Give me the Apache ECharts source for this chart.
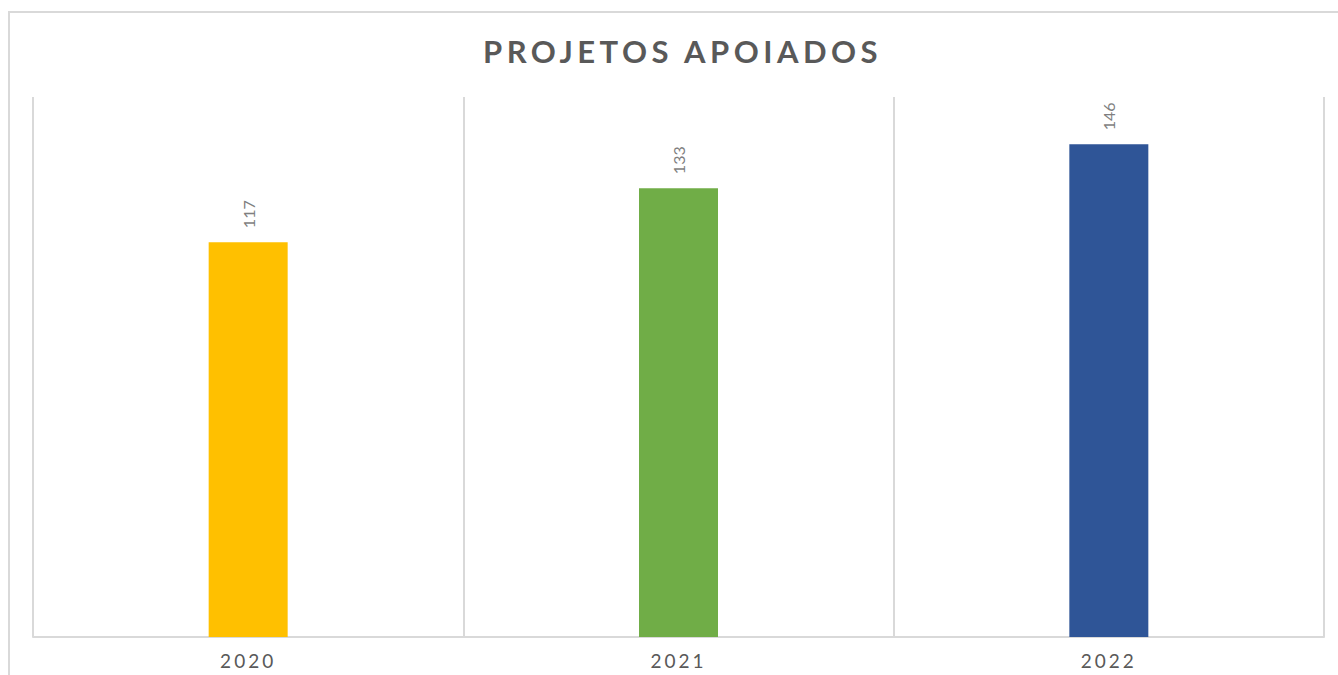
<!DOCTYPE html>
<html>
<head>
<meta charset="utf-8">
<script src="https://cdn.jsdelivr.net/npm/echarts@6/dist/echarts.min.js"></script>
<style>
  html, body { margin: 0; padding: 0; background: #fff; }
  #chart { width: 1338px; height: 675px; }
  /* letter spacing like the original (title and year labels) */
  #chart text[style*="31px"] { letter-spacing: 4.5px; }
  #chart text[style*="19px"] { letter-spacing: 3px; }
</style>
</head>
<body>
<div id="chart"></div>
<script>
const years = ['2020', '2021', '2022']
const projects = [117, 133, 146]
const barColors = ['#FFC000', '#70AD47', '#2F5597']

const chart = echarts.init(document.getElementById('chart'), null, { renderer: 'svg' })

chart.setOption({
  animation: false,
  title: {
    text: 'PROJETOS APOIADOS',
    left: 483,
    top: 30,
    padding: [5, 0, 5, 0],
    textStyle: { fontFamily: 'Lato', fontWeight: 'bold', fontSize: 31, color: '#595959' },
  },
  graphic: [
    {
      type: 'rect',
      shape: { x: 9, y: 12, width: 1400, height: 700 },
      style: { fill: 'none', stroke: '#d9d9d9', lineWidth: 2 },
      silent: true,
    },
  ],
  grid: { left: 33, right: 14, top: 97, bottom: 38 },
  xAxis: {
    type: 'category',
    data: years,
    axisTick: { show: false },
    axisLine: { lineStyle: { color: '#d9d9d9', width: 2 } },
    axisLabel: { color: '#595959', fontFamily: 'Lato', fontSize: 19, margin: 14 },
    splitLine: { show: true, lineStyle: { color: '#d9d9d9', width: 2 } },
  },
  yAxis: {
    type: 'value',
    min: 0,
    max: 160,
    show: false,
    splitLine: { show: false },
  },
  series: [
    {
      type: 'bar',
      barWidth: 79,
      data: projects.map((v, i) => ({ value: v, itemStyle: { color: barColors[i] } })),
      label: {
        show: true,
        position: 'top',
        rotate: 90,
        align: 'left',
        verticalAlign: 'middle',
        distance: 14,
        color: '#7f7f7f',
        fontFamily: 'Lato',
        fontSize: 16,
      },
    },
  ],
})
</script>
</body>
</html>
